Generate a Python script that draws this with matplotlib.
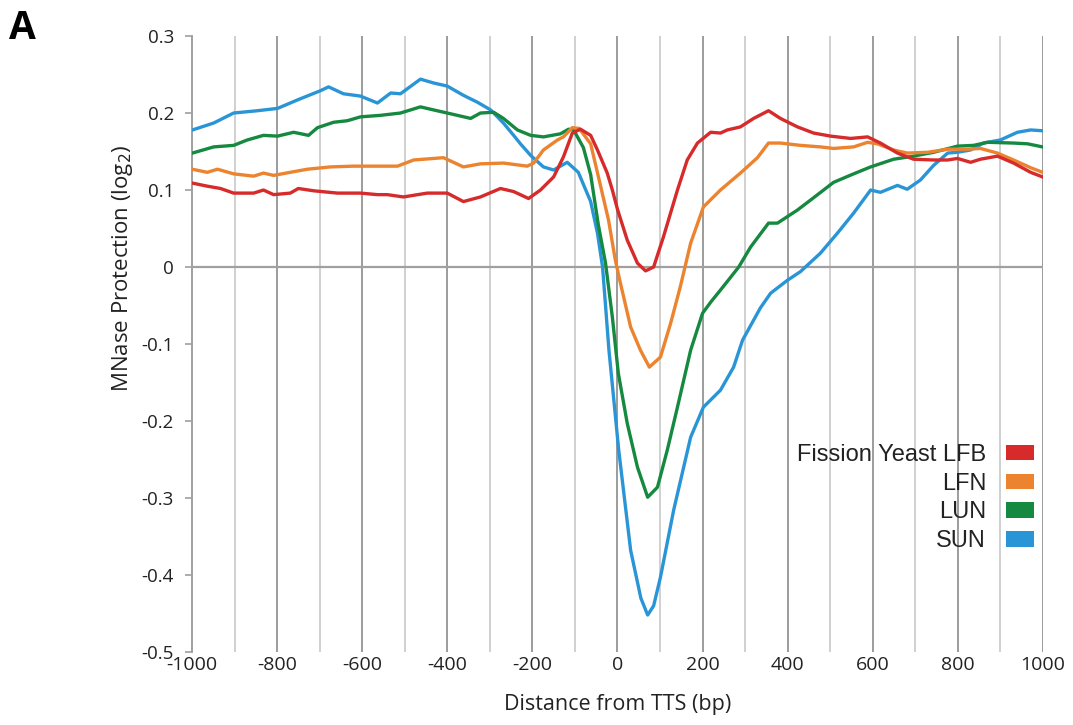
import matplotlib
matplotlib.use("Agg")
import matplotlib.pyplot as plt
from matplotlib.patches import Patch

# LFB (red)
lfb_x = [-999, -964, -933, -902, -855, -832, -808, -769, -750, -714, -658, -604, -564, -541,
         -503, -447, -400, -362, -322, -275, -244, -209, -181, -150, -127, -106, -87, -63,
         -47, -24, -12, 0, 23, 47, 66, 85, 108, 141, 164, 188, 219, 242, 258, 289, 320, 355,
         383, 423, 461, 501, 548, 588, 618, 658, 696, 743, 776, 799, 830, 853, 893, 931, 971, 999]
lfb_y = [0.109, 0.105, 0.102, 0.096, 0.096, 0.100, 0.094, 0.096, 0.102, 0.099, 0.096, 0.096, 0.094, 0.094,
         0.091, 0.096, 0.096, 0.085, 0.091, 0.102, 0.098, 0.089, 0.100, 0.117, 0.143, 0.174, 0.179, 0.171,
         0.152, 0.122, 0.100, 0.075, 0.035, 0.005, -0.005, 0.0, 0.039, 0.100, 0.139, 0.161, 0.175, 0.174, 0.178, 0.182, 0.193, 0.203,
         0.193, 0.182, 0.174, 0.170, 0.167, 0.169, 0.161, 0.148, 0.140, 0.139, 0.139, 0.141, 0.136, 0.140, 0.144, 0.135, 0.123, 0.117]

# LFN (orange)
lfn_x = [-999, -964, -940, -902, -855, -832, -808, -769, -729, -675, -620, -557, -517, -479,
         -409, -362, -322, -268, -212, -197, -174, -141, -127, -106, -90, -63, -40, -21, -5,
         7, 31, 54, 75, 101, 125, 148, 172, 202, 242, 289, 329, 355, 383, 430, 477, 508, 555,
         588, 611, 649, 681, 729, 776, 822, 853, 893, 931, 971, 999]
lfn_y = [0.127, 0.123, 0.127, 0.121, 0.118, 0.122, 0.119, 0.123, 0.127, 0.130, 0.131, 0.131, 0.131, 0.139,
         0.142, 0.130, 0.134, 0.135, 0.131, 0.135, 0.152, 0.165, 0.169, 0.181, 0.180, 0.160, 0.106, 0.061, 0.009,
         -0.021, -0.078, -0.108, -0.130, -0.117, -0.073, -0.025, 0.031, 0.078, 0.100, 0.122, 0.142, 0.161, 0.161, 0.158, 0.156, 0.154, 0.156,
         0.162, 0.160, 0.152, 0.148, 0.149, 0.153, 0.153, 0.154, 0.148, 0.139, 0.129, 0.123]

# LUN (green)
lun_x = [-999, -949, -902, -870, -832, -799, -761, -726, -705, -667, -635, -604, -557, -510,
         -463, -432, -400, -345, -322, -291, -268, -235, -204, -174, -134, -115, -103, -80,
         -63, -45, -28, -12, 2, 23, 47, 71, 94, 117, 141, 172, 200, 220, 242, 285, 313, 355,
         376, 423, 461, 508, 555, 595, 649, 696, 743, 799, 837, 870, 931, 964, 999]
lun_y = [0.148, 0.156, 0.158, 0.165, 0.171, 0.170, 0.175, 0.171, 0.181, 0.188, 0.190, 0.195, 0.197, 0.200,
         0.208, 0.204, 0.200, 0.193, 0.200, 0.201, 0.193, 0.178, 0.171, 0.169, 0.173, 0.179, 0.178, 0.155,
         0.120, 0.055, 0.005, -0.065, -0.138, -0.203, -0.260, -0.299, -0.286, -0.238, -0.182, -0.108, -0.060, -0.045, -0.030, 0.0, 0.026, 0.057,
         0.057, 0.074, 0.090, 0.110, 0.121, 0.130, 0.140, 0.144, 0.149, 0.157, 0.158, 0.162, 0.161, 0.160, 0.156]

# SUN (blue)
sun_x = [-999, -949, -902, -846, -799, -752, -698, -679, -644, -604, -564, -533, -510, -463,
         -432, -400, -362, -329, -298, -268, -244, -228, -204, -174, -150, -118, -92, -63,
         -47, -35, -20, 3, 31, 55, 71, 85, 101, 132, 172, 202, 242, 273, 294, 336, 360, 400,
         430, 477, 517, 555, 595, 618, 658, 681, 712, 743, 776, 799, 830, 860, 900, 940, 971, 999]
sun_y = [0.178, 0.187, 0.200, 0.203, 0.206, 0.217, 0.229, 0.234, 0.225, 0.222, 0.213, 0.226, 0.225, 0.244,
         0.239, 0.235, 0.223, 0.214, 0.204, 0.187, 0.171, 0.160, 0.145, 0.130, 0.126, 0.136, 0.123, 0.085,
         0.044, 0.0, -0.108, -0.238, -0.368, -0.430, -0.452, -0.440, -0.403, -0.316, -0.221, -0.182, -0.160, -0.130, -0.095, -0.053, -0.034, -0.017,
         -0.006, 0.018, 0.044, 0.070, 0.100, 0.097, 0.106, 0.101, 0.113, 0.132, 0.148, 0.149, 0.152, 0.161, 0.165, 0.175, 0.178, 0.177]

labels = ['Fission Yeast LFB', 'LFN', 'LUN', 'SUN']
colors = ['#d62a2b', '#ec832e', '#15893f', '#2a95d6']

x_ticks = list(range(-1000, 1001, 200))
y_ticks = [0.3, 0.2, 0.1, 0, -0.1, -0.2, -0.3, -0.4, -0.5]
y_ticklabels = ['0.3', '0.2', '0.1', '0', '-0.1', '-0.2', '-0.3', '-0.4', '-0.5']

sans = ['Open Sans', 'DejaVu Sans']

fig = plt.figure(figsize=(10.73, 7.25), dpi=100)
ax = fig.add_axes([0.1789, 0.1007, 0.9720 - 0.1789, 0.9503 - 0.1007])

# vertical grid, darker every 200 bp
for xv in range(-900, 1001, 100):
    dark = (xv % 200 == 0)
    ax.axvline(xv, color='#9c9c9c' if dark else '#d0d0d0', lw=1.4, zorder=1)
ax.axhline(0, color='#a0a0a0', lw=1.6, zorder=1)

series = [(sun_x, sun_y), (lun_x, lun_y), (lfn_x, lfn_y), (lfb_x, lfb_y)]
for (xs, ys), c in zip(series, colors[::-1]):
    ax.plot(xs, ys, color=c, lw=2.4, zorder=3, solid_joinstyle='round')

ax.set_xlim(-1000, 1000)
ax.set_ylim(-0.5, 0.3)
for s in ['top', 'right', 'bottom']:
    ax.spines[s].set_visible(False)
ax.spines['left'].set_color('#a0a0a0')
ax.spines['left'].set_linewidth(1.4)

ax.set_yticks(y_ticks)
ax.set_yticklabels(y_ticklabels, family=sans, fontsize=13.5, color='#222222')
ax.tick_params(axis='y', direction='out', length=5, color='#a0a0a0', width=1.2, pad=8)
ax.set_xticks(x_ticks)
ax.set_xticklabels([str(v) for v in x_ticks], family=sans, fontsize=14, color='#222222')
ax.tick_params(axis='x', length=0, pad=3)

ax.set_xlabel('Distance from TTS (bp)', family=sans, fontsize=15.5, color='#222222', labelpad=14)
ax.set_ylabel('MNase Protection (log$_2$)', family=sans, fontsize=16, color='#222222')
ax.yaxis.set_label_coords(-0.067, 0.623)

handles = [Patch(facecolor=c, edgecolor='none') for c in colors]
fig.legend(handles, labels, loc='upper right', bbox_to_anchor=(0.9637, 0.388),
           frameon=False, markerfirst=False, borderaxespad=0, borderpad=0,
           prop={'family': ['Liberation Sans', 'DejaVu Sans'], 'size': 17},
           handlelength=1.18, handleheight=0.62, handletextpad=0.85, labelspacing=0.29,
           labelcolor='#222222')

fig.text(0.008, 0.988, 'A', fontsize=28, fontweight='bold', va='top', ha='left',
         family=sans)

fig.savefig('out.png', dpi=100)
